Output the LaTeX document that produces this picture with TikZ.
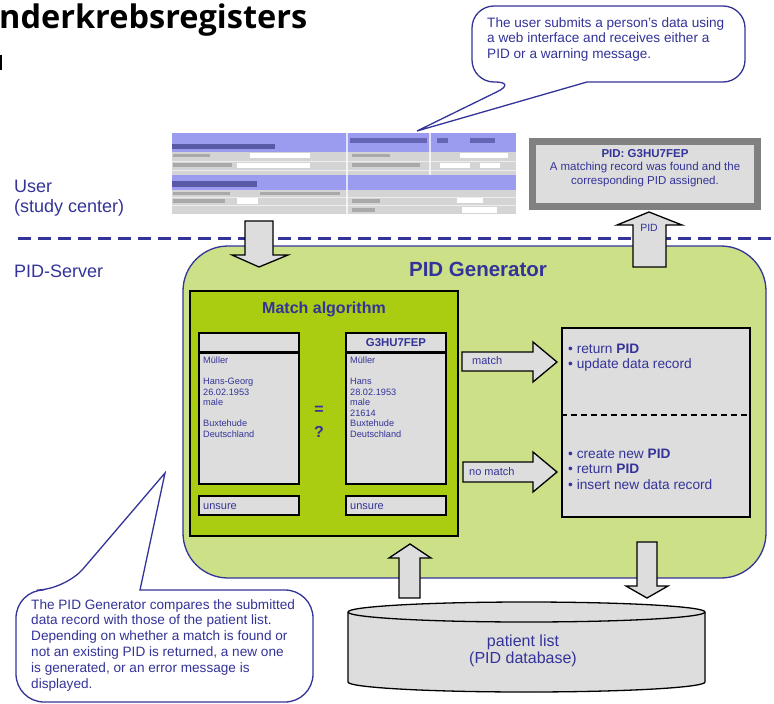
\documentclass[tikz,border=0pt]{standalone}
\usepackage{fontspec}
\setmainfont{Liberation Sans}
\newfontfamily\titlefont{Open Sans}
\usetikzlibrary{positioning}

\definecolor{pidblue}{RGB}{51,51,153}
\definecolor{genfill}{RGB}{204,224,136}
\definecolor{algofill}{RGB}{170,204,17}
\definecolor{boxgray}{RGB}{221,221,221}
\definecolor{framegray}{RGB}{128,128,128}
\definecolor{formblue}{RGB}{155,155,240}
\definecolor{formgray}{RGB}{212,212,212}

\tikzset{
	txt/.style={inner sep=0, text=pidblue, anchor=base west},
	ctxt/.style={inner sep=0, text=pidblue, anchor=base},
	recbox/.style={draw=black, line width=1.3, fill=boxgray, minimum width=100, inner sep=0},
	blockarrow/.style={draw=black, line width=1.3, fill=boxgray, line join=miter},
	callout/.style={draw=pidblue, line width=1.3, fill=white},
}

\begin{document}
\begin{tikzpicture}[x=1pt,y=-1pt]
				\useasboundingbox (0,0) rectangle (774,704);

				% cut title
				\node[inner sep=0, anchor=base west, font=\titlefont\bfseries\fontsize{32.5}{36}\selectfont] (title) at (-1,28) {nderkrebsregisters};
				\fill (0,55) rectangle (2,70);

				% the two sides (multi-line texts sit on their last baseline)
				\node[txt, font=\fontsize{18}{20}\selectfont, align=left] (user) at (14,212) {User\\(study center)};
				\node[txt, font=\fontsize{18}{20}\selectfont] (server) at (14,277) {PID-Server};
				\draw[pidblue, line width=3, dash pattern=on 13 off 7] (18,238) -- (774,238);

				% web form
				\fill[formgray] (172,133) rectangle (516,214);
				\fill[formblue] (172,133) rectangle (516,152);
				\fill[formblue] (172,175) rectangle (516,190);
				\draw[white, opacity=.6] (172,161) -- (516,161);
				\draw[white, opacity=.6] (172,170) -- (516,170);
				\draw[white, opacity=.6] (172,197) -- (516,197);
				\draw[white, opacity=.6] (172,205) -- (516,205);
				\draw[white, line width=1.5, opacity=.7] (347,133) -- (347,214);
				\draw[white, line width=1.5, opacity=.7] (430,133) -- (430,175);
				\fill[white] (250,153) rectangle (310,158);
				\fill[white] (237,163) rectangle (310,168);
				\fill[white] (460,153) rectangle (508,158);
				\fill[white] (440,163) rectangle (470,168);
				\fill[white] (480,163) rectangle (500,168);
				\fill[white] (237,198) rectangle (258,204);
				\fill[white] (457,198) rectangle (483,203);
				\fill[white] (462,207) rectangle (497,213);
				\fill[pidblue!70!black, opacity=.55] (172,144) rectangle (275,149);
				\fill[pidblue!70!black, opacity=.45] (350,138) rectangle (427,143);
				\fill[pidblue!70!black, opacity=.45] (437,138) rectangle (448,143);
				\fill[pidblue!70!black, opacity=.45] (470,138) rectangle (495,143);
				\fill[pidblue!70!black, opacity=.55] (172,181) rectangle (257,187);
				\fill[black, opacity=.2] (173,154) rectangle (210,157);
				\fill[black, opacity=.2] (173,163) rectangle (232,167);
				\fill[black, opacity=.2] (352,154) rectangle (390,157);
				\fill[black, opacity=.2] (352,163) rectangle (420,167);
				\fill[black, opacity=.2] (173,192) rectangle (230,195);
				\fill[black, opacity=.2] (260,192) rectangle (340,195);
				\fill[black, opacity=.2] (173,199) rectangle (225,203);
				\fill[black, opacity=.2] (352,199) rectangle (380,203);
				\fill[black, opacity=.2] (352,208) rectangle (375,212);

				% result shown to the user
				\node[draw=framegray, line width=7, fill=boxgray, minimum width=225, minimum height=65, inner sep=0] (pidbox) at (645,174) {};
				\node[ctxt, font=\fontsize{11.5}{13.5}\selectfont, align=center] (pidtext) at (645,184) {\textbf{PID: G3HU7FEP}\\A matching record was found and the\\corresponding PID assigned.};

				% PID generator
				\node[draw=pidblue, line width=1.3, fill=genfill, rounded corners=45, minimum width=583, minimum height=332, inner sep=0] (gen) at (474.5,412) {};
				\node[ctxt, font=\bfseries\fontsize{20.5}{22}\selectfont] (gentitle) at (478,276) {PID Generator};

				% match algorithm
				\node[draw=black, line width=1.5, fill=algofill, minimum width=268, minimum height=245, inner sep=0] (algo) at (324,413.5) {};
				\node[ctxt, font=\bfseries\fontsize{16}{18}\selectfont] (algotitle) at (324,313) {Match algorithm};

				\node[recbox, minimum height=19] (headA) at (249,342.5) {};
				\node[recbox, minimum height=131] (bodyA) at (249,418.5) {};
				\node[recbox, minimum height=19] (unsA) at (249,505.5) {};
				\node[recbox, minimum height=19] (headB) at (396,342.5) {};
				\node[recbox, minimum height=131] (bodyB) at (396,418.5) {};
				\node[recbox, minimum height=19] (unsB) at (396,505.5) {};

				\node[ctxt, font=\bfseries\fontsize{11.4}{13}\selectfont] (pidB) at (396,346) {G3HU7FEP};
				\node[txt, font=\fontsize{9.2}{10.6}\selectfont, align=left] (dataA) at (203,437.5) {Müller\\~\\Hans-Georg\\26.02.1953\\male\\~\\Buxtehude\\Deutschland};
				\node[txt, font=\fontsize{9.2}{10.6}\selectfont, align=left] (dataB) at (350,437.5) {Müller\\~\\Hans\\28.02.1953\\male\\21614\\Buxtehude\\Deutschland};
				\node[txt, font=\fontsize{11}{13}\selectfont] (unsAtext) at (203,509) {unsure};
				\node[txt, font=\fontsize{11}{13}\selectfont] (unsBtext) at (350,509) {unsure};
				\node[inner sep=0, text=pidblue, font=\bfseries\fontsize{16}{18}\selectfont] (eq) at (319,410) {=};
				\node[inner sep=0, text=pidblue, font=\bfseries\fontsize{16}{18}\selectfont] (qm) at (319,432) {?};

				% what happens
				\node[draw=black, line width=1.3, fill=boxgray, minimum width=188, minimum height=189, inner sep=0] (result) at (656,422.5) {};
				\draw[line width=1.3, dash pattern=on 6 off 4] ([yshift=7.5]result.west) -- ([yshift=7.5]result.east);
				\node[txt, font=\fontsize{13.7}{16}\selectfont] (r1) at (568,353) {\textbullet\ return \textbf{PID}};
				\node[txt, font=\fontsize{13.7}{16}\selectfont] (r2) at (568,368) {\textbullet\ update data record};
				\node[txt, font=\fontsize{13.7}{16}\selectfont] (r3) at (568,458) {\textbullet\ create new \textbf{PID}};
				\node[txt, font=\fontsize{13.7}{16}\selectfont] (r4) at (568,473) {\textbullet\ return \textbf{PID}};
				\node[txt, font=\fontsize{13.7}{16}\selectfont] (r5) at (568,489) {\textbullet\ insert new data record};

				% block arrows
				\draw[blockarrow] (245,221) -- (273,221) -- (273,255) -- (288,255) -- (259,267) -- (232,255) -- (245,255) -- cycle;
				\draw[blockarrow] (633,267) -- (633,225) -- (617,225) -- (649,212) -- (682,225) -- (666,225) -- (666,267) -- cycle;
				\node[inner sep=0, text=pidblue, font=\fontsize{10.5}{12}\selectfont] (pidlbl) at (649,228) {PID};
				\draw[blockarrow] (462,352) -- (533,352) -- (533,342) -- (557,362) -- (533,382) -- (533,371) -- (462,371) -- cycle;
				\node[txt, font=\fontsize{11}{13}\selectfont] (matchlbl) at (472,364) {match};
				\draw[blockarrow] (463,462) -- (533,462) -- (533,452) -- (557,472) -- (533,492) -- (533,482) -- (463,482) -- cycle;
				\node[txt, font=\fontsize{11}{13}\selectfont] (nomatchlbl) at (469,475) {no match};
				\draw[blockarrow] (399,598) -- (399,558) -- (389,558) -- (410,544) -- (431,558) -- (420,558) -- (420,598) -- cycle;
				\draw[blockarrow] (637,542) -- (657,542) -- (657,586) -- (668,586) -- (647,598) -- (626,586) -- (637,586) -- cycle;

				% patient list
				\draw[line width=1.3, fill=boxgray] (348,612) -- (348,682) arc[start angle=180, end angle=0, x radius=178.5, y radius=10] -- (705,612) arc[start angle=0, end angle=-180, x radius=178.5, y radius=10] -- cycle;
				\draw[line width=1.3] (348,612) arc[start angle=180, end angle=0, x radius=178.5, y radius=10];
				\node[ctxt, font=\fontsize{16}{17}\selectfont, align=center] (db) at (523,663) {patient list\\(PID database)};

				% callouts
				\draw[callout] (517,82) [sharp corners] -- (417,131) -- (587,82) [rounded corners=22] -- (745,82) -- (745,6) -- (472,6) -- (472,82) -- cycle;
				\node[txt, font=\fontsize{13.6}{15.5}\selectfont, align=left] (usernote) at (487,58) {The user submits a person's data using\\a web interface and receives either a\\PID or a warning message.};

				\draw[callout] (65,590) [sharp corners] -- (165,473) -- (140,590) [rounded corners=28] -- (313,590) -- (313,702) -- (16,702) -- (16,590) -- cycle;
				\node[txt, font=\fontsize{13.6}{15.8}\selectfont, align=left] (gennote) at (31,688) {The PID Generator compares the submitted\\data record with those of the patient list.\\Depending on whether a match is found or\\not an existing PID is returned, a new one\\is generated, or an error message is\\displayed.};

				\end{tikzpicture}
\end{document}
